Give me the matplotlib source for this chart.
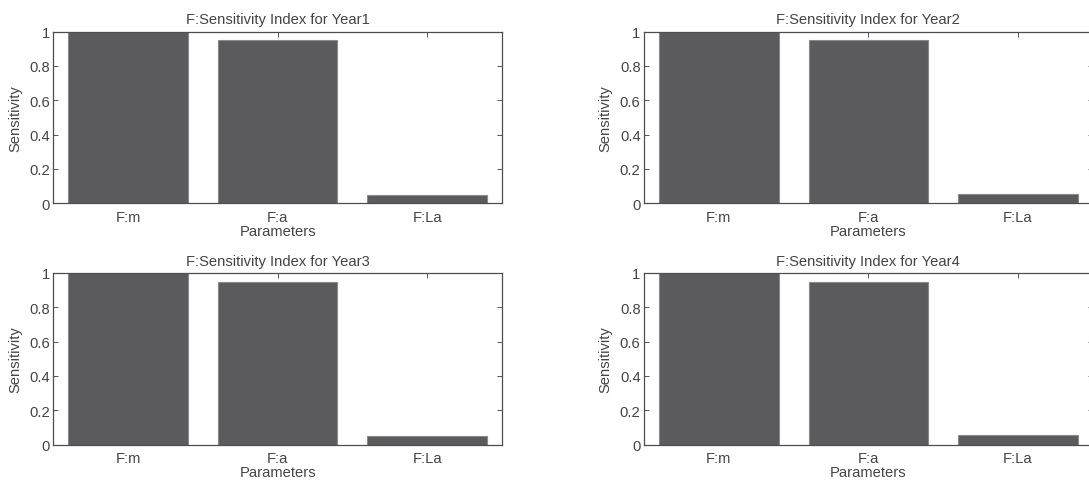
import matplotlib
matplotlib.use("Agg")
import matplotlib.pyplot as plt

categories = ["F:m", "F:a", "F:La"]
years = ["Year1", "Year2", "Year3", "Year4"]
year1 = [1.0, 0.95, 0.05]
year2 = [1.0, 0.95, 0.055]
year3 = [1.0, 0.945, 0.052]
year4 = [1.0, 0.945, 0.055]
yticks = [0, 0.2, 0.4, 0.6, 0.8, 1]
ytick_labels = ["0", "0.2", "0.4", "0.6", "0.8", "1"]

series = [year1, year2, year3, year4]

plt.rcParams['font.family'] = ['Liberation Sans', 'DejaVu Sans']
TXT = "#444444"
FS = 10.6

fig = plt.figure(figsize=(10.89, 4.85), dpi=100)
W, H = 1089, 485
ax_w = 448.7
ax_h = 171.5
lefts = [53.3, 644.0]
tops = [32.7, 274.0]

for i, (yr, vals) in enumerate(zip(years, series)):
    r, c = divmod(i, 2)
    x0 = lefts[c] / W
    y0 = 1 - (tops[r] + ax_h) / H
    ax = fig.add_axes([x0, y0, ax_w / W, ax_h / H])
    xs = list(range(1, len(categories) + 1))
    ax.bar(xs, vals, width=0.8, color="#5b5b5d", edgecolor="#8a8a8a", linewidth=0.8, zorder=2)
    ax.set_xlim(0.5, 3.5)
    ax.set_ylim(0, 1)
    ax.set_axisbelow(True)
    ax.set_xticks(xs)
    ax.set_xticklabels(categories)
    ax.set_yticks(yticks)
    ax.set_yticklabels(ytick_labels)
    ax.tick_params(direction="in", length=3.6, width=0.7, color="#555555",
                   top=True, right=True, labelsize=FS, labelcolor=TXT)
    ax.tick_params(axis="x", pad=5)
    ax.tick_params(axis="y", pad=2.5)
    for s in ax.spines.values():
        s.set_color("#4d4d4d")
        s.set_linewidth(0.9)
    ax.set_title("F:Sensitivity Index for " + yr, fontsize=FS, color=TXT, pad=6)
    ax.set_xlabel("Parameters", fontsize=FS, color=TXT, labelpad=0)
    ax.set_ylabel("Sensitivity", fontsize=FS, color=TXT, labelpad=5)

fig.savefig("out.png", dpi=100)
